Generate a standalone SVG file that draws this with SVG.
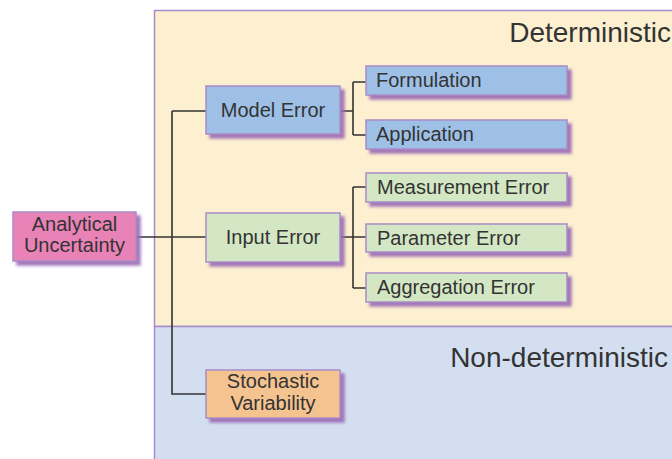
<svg xmlns="http://www.w3.org/2000/svg" width="672" height="459" viewBox="0 0 672 459">
<defs>
<filter id="sh" x="-10%" y="-20%" width="130%" height="160%">
<feGaussianBlur in="SourceAlpha" stdDeviation="1.8" result="b"/>
<feOffset in="b" dx="4" dy="4" result="o"/>
<feFlood flood-color="#9a6ab4" flood-opacity="0.9"/>
<feComposite in2="o" operator="in" result="s"/>
<feMerge><feMergeNode in="s"/><feMergeNode in="SourceGraphic"/></feMerge>
</filter>
</defs>
<style>
.box{stroke:#a98cc8;stroke-width:1.5;filter:url(#sh)}
.pink{fill:#e982b6}
.blue{fill:#9ec0e6}
.green{fill:#d4e7c4}
.orange{fill:#f4c38f}
text{font-family:"Liberation Sans",Arial,sans-serif;fill:#333;font-size:20px}
.c{text-anchor:middle}
.big{font-size:28px;text-anchor:end}
.conn{fill:none;stroke:#333;stroke-width:1.6}
</style>
<rect x="0" y="0" width="672" height="459" fill="#fff"/>
<g id="regions">
<rect x="154.5" y="10.5" width="520" height="316" fill="#fdf0d0" stroke="#a58bc9" stroke-width="1.5"/>
<rect x="154.5" y="326.5" width="520" height="140" fill="#d3dff1" stroke="#a58bc9" stroke-width="1.5"/>
<text class="big" x="671" y="42">Deterministic</text>
<text class="big" x="668" y="367">Non-deterministic</text>
</g>
<g id="connectors">
<path class="conn" d="M136 237H206M172 111V394H206M172 111H206"/>
<path class="conn" d="M340 111H353M353 82V135M353 82H366M353 135H366"/>
<path class="conn" d="M340 237H366M353 187V288M353 187H366M353 288H366"/>
</g>
<g id="analytical">
<rect class="box pink" x="13" y="212" width="123" height="49"/>
<text class="c" x="74.5" y="231">Analytical</text>
<text class="c" x="74.5" y="252">Uncertainty</text>
</g>
<g id="model">
<rect class="box blue" x="206" y="86" width="134" height="48"/>
<text class="c" x="273" y="117">Model Error</text>
</g>
<g id="input">
<rect class="box green" x="206" y="213" width="134" height="49"/>
<text class="c" x="273" y="244">Input Error</text>
</g>
<g id="stochastic">
<rect class="box orange" x="206" y="370" width="134" height="48"/>
<text class="c" x="273" y="388">Stochastic</text>
<text class="c" x="273" y="410">Variability</text>
</g>
<g id="formulation">
<rect class="box blue" x="366" y="66" width="201" height="29"/>
<text x="376" y="87">Formulation</text>
</g>
<g id="application">
<rect class="box blue" x="366" y="120" width="201" height="29"/>
<text x="376" y="141">Application</text>
</g>
<g id="measurement">
<rect class="box green" x="366" y="173" width="201" height="29"/>
<text x="377" y="194">Measurement Error</text>
</g>
<g id="parameter">
<rect class="box green" x="366" y="224" width="201" height="28"/>
<text x="377" y="245">Parameter Error</text>
</g>
<g id="aggregation">
<rect class="box green" x="366" y="273" width="201" height="29"/>
<text x="377" y="294">Aggregation Error</text>
</g>
</svg>
